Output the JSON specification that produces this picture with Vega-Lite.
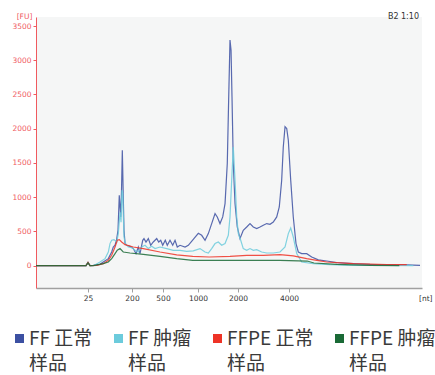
{
  "$schema": "https://vega.github.io/schema/vega-lite/v6.json",
  "autosize": {"type": "none"},
  "width": 386,
  "height": 271,
  "padding": {"left": 36, "top": 17, "right": 13, "bottom": 87},
  "background": "white",
  "title": {"text": "B2 1:10", "anchor": "end", "frame": "group", "fontSize": 8, "font": "DejaVu Sans", "fontWeight": "normal", "color": "#333333", "baseline": "bottom", "offset": -2, "dx": -3, "dy": 15},
  "config": {"view": {"fill": "#f5f6f6", "stroke": null}},
  "data": {"values": [
    {"s":"FF 正常样品","t":20,"fu":0},{"s":"FF 正常样品","t":26.25,"fu":0},{"s":"FF 正常样品","t":26.5,"fu":48},{"s":"FF 正常样品","t":26.75,"fu":0},
    {"s":"FF 正常样品","t":27.16,"fu":4},{"s":"FF 正常样品","t":28.0,"fu":19},{"s":"FF 正常样品","t":28.41,"fu":53},{"s":"FF 正常样品","t":29.04,"fu":102},
    {"s":"FF 正常样品","t":29.46,"fu":199},{"s":"FF 正常样品","t":29.66,"fu":272},{"s":"FF 正常样品","t":29.88,"fu":297},{"s":"FF 正常样品","t":30.06,"fu":370},
    {"s":"FF 正常样品","t":30.25,"fu":516},{"s":"FF 正常样品","t":30.41,"fu":1028},{"s":"FF 正常样品","t":30.59,"fu":711},{"s":"FF 正常样品","t":30.69,"fu":1101},
    {"s":"FF 正常样品","t":30.79,"fu":1686},{"s":"FF 正常样品","t":30.91,"fu":1003},{"s":"FF 正常样品","t":31.0,"fu":516},{"s":"FF 正常样品","t":31.13,"fu":326},
    {"s":"FF 正常样品","t":31.34,"fu":297},{"s":"FF 正常样品","t":31.75,"fu":282},{"s":"FF 正常样品","t":32.16,"fu":249},{"s":"FF 正常样品","t":32.5,"fu":175},
    {"s":"FF 正常样品","t":32.79,"fu":272},{"s":"FF 正常样品","t":33.0,"fu":175},{"s":"FF 正常样品","t":33.34,"fu":370},{"s":"FF 正常样品","t":33.5,"fu":395},
    {"s":"FF 正常样品","t":33.75,"fu":345},{"s":"FF 正常样品","t":34.04,"fu":395},{"s":"FF 正常样品","t":34.34,"fu":297},{"s":"FF 正常样品","t":34.66,"fu":345},
    {"s":"FF 正常样品","t":35.09,"fu":395},{"s":"FF 正常样品","t":35.34,"fu":345},{"s":"FF 正常样品","t":35.59,"fu":370},{"s":"FF 正常样品","t":35.84,"fu":297},
    {"s":"FF 正常样品","t":36.16,"fu":370},{"s":"FF 正常样品","t":36.41,"fu":297},{"s":"FF 正常样品","t":36.75,"fu":370},{"s":"FF 正常样品","t":37.09,"fu":297},
    {"s":"FF 正常样品","t":37.38,"fu":370},{"s":"FF 正常样品","t":37.66,"fu":272},{"s":"FF 正常样品","t":38.0,"fu":297},{"s":"FF 正常样品","t":38.63,"fu":272},
    {"s":"FF 正常样品","t":39.04,"fu":297},{"s":"FF 正常样品","t":39.66,"fu":385},{"s":"FF 正常样品","t":40.29,"fu":472},{"s":"FF 正常样品","t":40.71,"fu":443},
    {"s":"FF 正常样品","t":41.13,"fu":370},{"s":"FF 正常样品","t":41.54,"fu":468},{"s":"FF 正常样品","t":41.96,"fu":614},{"s":"FF 正常样品","t":42.38,"fu":760},
    {"s":"FF 正常样品","t":42.66,"fu":711},{"s":"FF 正常样品","t":43.0,"fu":614},{"s":"FF 正常样品","t":43.34,"fu":711},{"s":"FF 正常样品","t":43.63,"fu":906},
    {"s":"FF 正常样品","t":43.91,"fu":1491},{"s":"FF 正常样品","t":44.09,"fu":2465},{"s":"FF 正常样品","t":44.25,"fu":3294},{"s":"FF 正常样品","t":44.38,"fu":3148},
    {"s":"FF 正常样品","t":44.5,"fu":2465},{"s":"FF 正常样品","t":44.66,"fu":1491},{"s":"FF 正常样品","t":44.88,"fu":906},{"s":"FF 正常样品","t":45.16,"fu":564},
    {"s":"FF 正常样品","t":45.5,"fu":395},{"s":"FF 正常样品","t":45.91,"fu":516},{"s":"FF 正常样品","t":46.34,"fu":564},{"s":"FF 正常样品","t":46.75,"fu":614},
    {"s":"FF 正常样品","t":47.16,"fu":564},{"s":"FF 正常样品","t":47.59,"fu":541},{"s":"FF 正常样品","t":48.0,"fu":564},{"s":"FF 正常样品","t":48.41,"fu":589},
    {"s":"FF 正常样品","t":48.84,"fu":614},{"s":"FF 正常样品","t":49.25,"fu":604},{"s":"FF 正常样品","t":49.66,"fu":637},{"s":"FF 正常样品","t":50.09,"fu":711},
    {"s":"FF 正常样品","t":50.41,"fu":857},{"s":"FF 正常样品","t":50.71,"fu":1247},{"s":"FF 正常样品","t":50.91,"fu":1734},{"s":"FF 正常样品","t":51.13,"fu":2029},
    {"s":"FF 正常样品","t":51.34,"fu":2003},{"s":"FF 正常样品","t":51.54,"fu":1832},{"s":"FF 正常样品","t":51.84,"fu":1247},{"s":"FF 正常样品","t":52.16,"fu":711},
    {"s":"FF 正常样品","t":52.5,"fu":322},{"s":"FF 正常样品","t":52.79,"fu":199},{"s":"FF 正常样品","t":53.21,"fu":175},{"s":"FF 正常样品","t":53.84,"fu":175},
    {"s":"FF 正常样品","t":54.46,"fu":126},{"s":"FF 正常样品","t":55.29,"fu":85},{"s":"FF 正常样品","t":56.34,"fu":67},{"s":"FF 正常样品","t":57.59,"fu":44},
    {"s":"FF 正常样品","t":59.66,"fu":29},{"s":"FF 正常样品","t":61.75,"fu":19},{"s":"FF 正常样品","t":63.84,"fu":15},{"s":"FF 正常样品","t":66.34,"fu":12},
    {"s":"FF 正常样品","t":68.0,"fu":4},

    {"s":"FF 肿瘤样品","t":20,"fu":0},{"s":"FF 肿瘤样品","t":26.25,"fu":0},{"s":"FF 肿瘤样品","t":26.5,"fu":45},{"s":"FF 肿瘤样品","t":26.75,"fu":0},
    {"s":"FF 肿瘤样品","t":27.3,"fu":4},{"s":"FF 肿瘤样品","t":28.0,"fu":53},{"s":"FF 肿瘤样品","t":28.63,"fu":102},{"s":"FF 肿瘤样品","t":29.04,"fu":199},
    {"s":"FF 肿瘤样品","t":29.25,"fu":322},{"s":"FF 肿瘤样品","t":29.46,"fu":370},{"s":"FF 肿瘤样品","t":29.75,"fu":380},{"s":"FF 肿瘤样品","t":30.09,"fu":345},
    {"s":"FF 肿瘤样品","t":30.29,"fu":468},{"s":"FF 肿瘤样品","t":30.5,"fu":779},{"s":"FF 肿瘤样品","t":30.63,"fu":633},{"s":"FF 肿瘤样品","t":30.75,"fu":1101},
    {"s":"FF 肿瘤样品","t":30.84,"fu":1057},{"s":"FF 肿瘤样品","t":30.91,"fu":760},{"s":"FF 肿瘤样品","t":31.0,"fu":418},{"s":"FF 肿瘤样品","t":31.16,"fu":322},
    {"s":"FF 肿瘤样品","t":31.54,"fu":272},{"s":"FF 肿瘤样品","t":31.96,"fu":263},{"s":"FF 肿瘤样品","t":32.38,"fu":224},{"s":"FF 肿瘤样品","t":32.79,"fu":199},
    {"s":"FF 肿瘤样品","t":33.21,"fu":272},{"s":"FF 肿瘤样品","t":33.63,"fu":297},{"s":"FF 肿瘤样品","t":34.04,"fu":249},{"s":"FF 肿瘤样品","t":34.46,"fu":282},
    {"s":"FF 肿瘤样品","t":34.88,"fu":249},{"s":"FF 肿瘤样品","t":35.5,"fu":272},{"s":"FF 肿瘤样品","t":36.34,"fu":249},{"s":"FF 肿瘤样品","t":37.16,"fu":224},
    {"s":"FF 肿瘤样品","t":38.0,"fu":224},{"s":"FF 肿瘤样品","t":38.84,"fu":209},{"s":"FF 肿瘤样品","t":39.66,"fu":216},{"s":"FF 肿瘤样品","t":40.5,"fu":249},
    {"s":"FF 肿瘤样品","t":41.13,"fu":199},{"s":"FF 肿瘤样品","t":41.54,"fu":184},{"s":"FF 肿瘤样品","t":41.96,"fu":249},{"s":"FF 肿瘤样品","t":42.38,"fu":322},
    {"s":"FF 肿瘤样品","t":42.79,"fu":345},{"s":"FF 肿瘤样品","t":43.21,"fu":297},{"s":"FF 肿瘤样品","t":43.63,"fu":322},{"s":"FF 肿瘤样品","t":44.04,"fu":443},
    {"s":"FF 肿瘤样品","t":44.25,"fu":711},{"s":"FF 肿瘤样品","t":44.46,"fu":1247},{"s":"FF 肿瘤样品","t":44.66,"fu":1734},{"s":"FF 肿瘤样品","t":44.88,"fu":1247},
    {"s":"FF 肿瘤样品","t":45.09,"fu":711},{"s":"FF 肿瘤样品","t":45.29,"fu":468},{"s":"FF 肿瘤样品","t":45.59,"fu":370},{"s":"FF 肿瘤样品","t":45.91,"fu":249},
    {"s":"FF 肿瘤样品","t":46.34,"fu":224},{"s":"FF 肿瘤样品","t":46.75,"fu":249},{"s":"FF 肿瘤样品","t":47.16,"fu":224},{"s":"FF 肿瘤样品","t":47.59,"fu":234},
    {"s":"FF 肿瘤样品","t":48.21,"fu":199},{"s":"FF 肿瘤样品","t":48.84,"fu":184},{"s":"FF 肿瘤样品","t":49.66,"fu":184},{"s":"FF 肿瘤样品","t":50.5,"fu":199},
    {"s":"FF 肿瘤样品","t":51.13,"fu":272},{"s":"FF 肿瘤样品","t":51.54,"fu":468},{"s":"FF 肿瘤样品","t":51.84,"fu":550},{"s":"FF 肿瘤样品","t":52.16,"fu":418},
    {"s":"FF 肿瘤样品","t":52.59,"fu":175},{"s":"FF 肿瘤样品","t":53.21,"fu":53},{"s":"FF 肿瘤样品","t":54.66,"fu":29},{"s":"FF 肿瘤样品","t":56.75,"fu":15},
    {"s":"FF 肿瘤样品","t":59.66,"fu":4},{"s":"FF 肿瘤样品","t":63.84,"fu":4},{"s":"FF 肿瘤样品","t":67.16,"fu":0},

    {"s":"FFPE 正常样品","t":20,"fu":0},{"s":"FFPE 正常样品","t":26.25,"fu":0},{"s":"FFPE 正常样品","t":26.5,"fu":48},{"s":"FFPE 正常样品","t":26.75,"fu":0},
    {"s":"FFPE 正常样品","t":27.59,"fu":4},{"s":"FFPE 正常样品","t":28.41,"fu":29},{"s":"FFPE 正常样品","t":29.04,"fu":77},{"s":"FFPE 正常样品","t":29.46,"fu":151},
    {"s":"FFPE 正常样品","t":29.88,"fu":272},{"s":"FFPE 正常样品","t":30.16,"fu":370},{"s":"FFPE 正常样品","t":30.41,"fu":380},{"s":"FFPE 正常样品","t":30.71,"fu":345},
    {"s":"FFPE 正常样品","t":31.13,"fu":307},{"s":"FFPE 正常样品","t":32.16,"fu":272},{"s":"FFPE 正常样品","t":33.41,"fu":249},{"s":"FFPE 正常样品","t":35.5,"fu":199},
    {"s":"FFPE 正常样品","t":37.59,"fu":158},{"s":"FFPE 正常样品","t":39.59,"fu":136},{"s":"FFPE 正常样品","t":41.66,"fu":126},{"s":"FFPE 正常样品","t":44.25,"fu":136},
    {"s":"FFPE 正常样品","t":46.34,"fu":151},{"s":"FFPE 正常样品","t":48.41,"fu":151},{"s":"FFPE 正常样品","t":50.5,"fu":161},{"s":"FFPE 正常样品","t":52.16,"fu":143},
    {"s":"FFPE 正常样品","t":53.84,"fu":102},{"s":"FFPE 正常样品","t":55.09,"fu":77},{"s":"FFPE 正常样品","t":56.34,"fu":53},{"s":"FFPE 正常样品","t":59.66,"fu":29},
    {"s":"FFPE 正常样品","t":63.84,"fu":15},{"s":"FFPE 正常样品","t":66.34,"fu":15},

    {"s":"FFPE 肿瘤样品","t":20,"fu":0},{"s":"FFPE 肿瘤样品","t":26.25,"fu":0},{"s":"FFPE 肿瘤样品","t":26.5,"fu":40},{"s":"FFPE 肿瘤样品","t":26.75,"fu":0},
    {"s":"FFPE 肿瘤样品","t":27.16,"fu":0},{"s":"FFPE 肿瘤样品","t":28.41,"fu":29},{"s":"FFPE 肿瘤样品","t":29.04,"fu":53},{"s":"FFPE 肿瘤样品","t":29.46,"fu":102},
    {"s":"FFPE 肿瘤样品","t":29.88,"fu":175},{"s":"FFPE 肿瘤样品","t":30.16,"fu":224},{"s":"FFPE 肿瘤样品","t":30.5,"fu":249},{"s":"FFPE 肿瘤样品","t":30.91,"fu":199},
    {"s":"FFPE 肿瘤样品","t":31.75,"fu":184},{"s":"FFPE 肿瘤样品","t":33.41,"fu":165},{"s":"FFPE 肿瘤样品","t":35.5,"fu":136},{"s":"FFPE 肿瘤样品","t":37.59,"fu":102},
    {"s":"FFPE 肿瘤样品","t":39.59,"fu":77},{"s":"FFPE 肿瘤样品","t":41.66,"fu":77},{"s":"FFPE 肿瘤样品","t":46.34,"fu":77},{"s":"FFPE 肿瘤样品","t":50.5,"fu":77},
    {"s":"FFPE 肿瘤样品","t":53.91,"fu":67},{"s":"FFPE 肿瘤样品","t":54.75,"fu":38},{"s":"FFPE 肿瘤样品","t":57.59,"fu":19},{"s":"FFPE 肿瘤样品","t":61.75,"fu":4},
    {"s":"FFPE 肿瘤样品","t":65.41,"fu":0}
  ]},
  "mark": {"type": "line", "strokeWidth": 1.2, "opacity": 0.85, "interpolate": "linear"},
  "encoding": {
    "x": {"field": "t", "type": "quantitative",
      "scale": {"domain": [20, 68.25], "nice": false, "zero": false},
      "axis": {"values": [26.5, 32, 35.875, 40.25, 45.25, 51.625],
        "labelExpr": "datum.value == 26.5 ? '25' : datum.value == 32 ? '200' : datum.value == 35.875 ? '500' : datum.value == 40.25 ? '1000' : datum.value == 45.25 ? '2000' : '4000'",
        "grid": false, "domainColor": "#a0a0a0", "domainWidth": 1.5, "tickColor": "#a0a0a0", "tickSize": 4,
        "labelFont": "DejaVu Sans", "labelFontSize": 7.5, "labelColor": "#333333", "labelPadding": 2,
        "title": "[nt]", "titleFont": "DejaVu Sans", "titleFontSize": 7.5, "titleFontWeight": "normal", "titleColor": "#333333",
        "titleAnchor": null, "titleAlign": "right", "titleBaseline": "middle", "titleX": 396, "titleY": 10}},
    "y": {"field": "fu", "type": "quantitative",
      "scale": {"domain": [-327, 3632], "nice": false, "zero": false},
      "axis": {"values": [0, 500, 1000, 1500, 2000, 2500, 3000, 3500], "format": "d",
        "grid": false, "domainColor": "#f05a5f", "tickColor": "#f05a5f", "tickSize": 3,
        "labelFont": "DejaVu Sans", "labelFontSize": 7.5, "labelColor": "#f05a5f", "labelPadding": 2,
        "title": "[FU]", "titleFont": "DejaVu Sans", "titleFontSize": 7.5, "titleFontWeight": "normal", "titleColor": "#f05a5f",
        "titleAngle": 0, "titleAnchor": null, "titleAlign": "center", "titleBaseline": "middle", "titleX": -12, "titleY": -1}},
    "color": {"field": "s", "type": "nominal",
      "scale": {"domain": ["FF 正常样品", "FF 肿瘤样品", "FFPE 正常样品", "FFPE 肿瘤样品"], "range": ["#3c50a2", "#6ccbdc", "#ee3326", "#1a6a36"]},
      "legend": {"orient": "none", "legendX": -26, "legendY": 312, "direction": "horizontal", "columns": 4, "columnPadding": 16, "gridAlign": "none",
        "title": null, "symbolType": "square", "symbolSize": 81, "symbolStrokeWidth": 0, "symbolOpacity": 1,
        "labelFont": "Noto Sans CJK SC", "labelFontSize": 19, "labelColor": "#3a3a3a", "labelOffset": 0, "labelLimit": 200, "labelBaseline": "top",
        "labelExpr": "[slice(datum.label, 0, -2), slice(datum.label, -2)]",
        "encode": {"labels": {"update": {"lineHeight": {"value": 25}, "dy": {"value": -9}}},
                   "symbols": {"update": {"fill": {"scale": "color", "field": "value"}, "opacity": {"value": 1}}}}}}
  }
}
